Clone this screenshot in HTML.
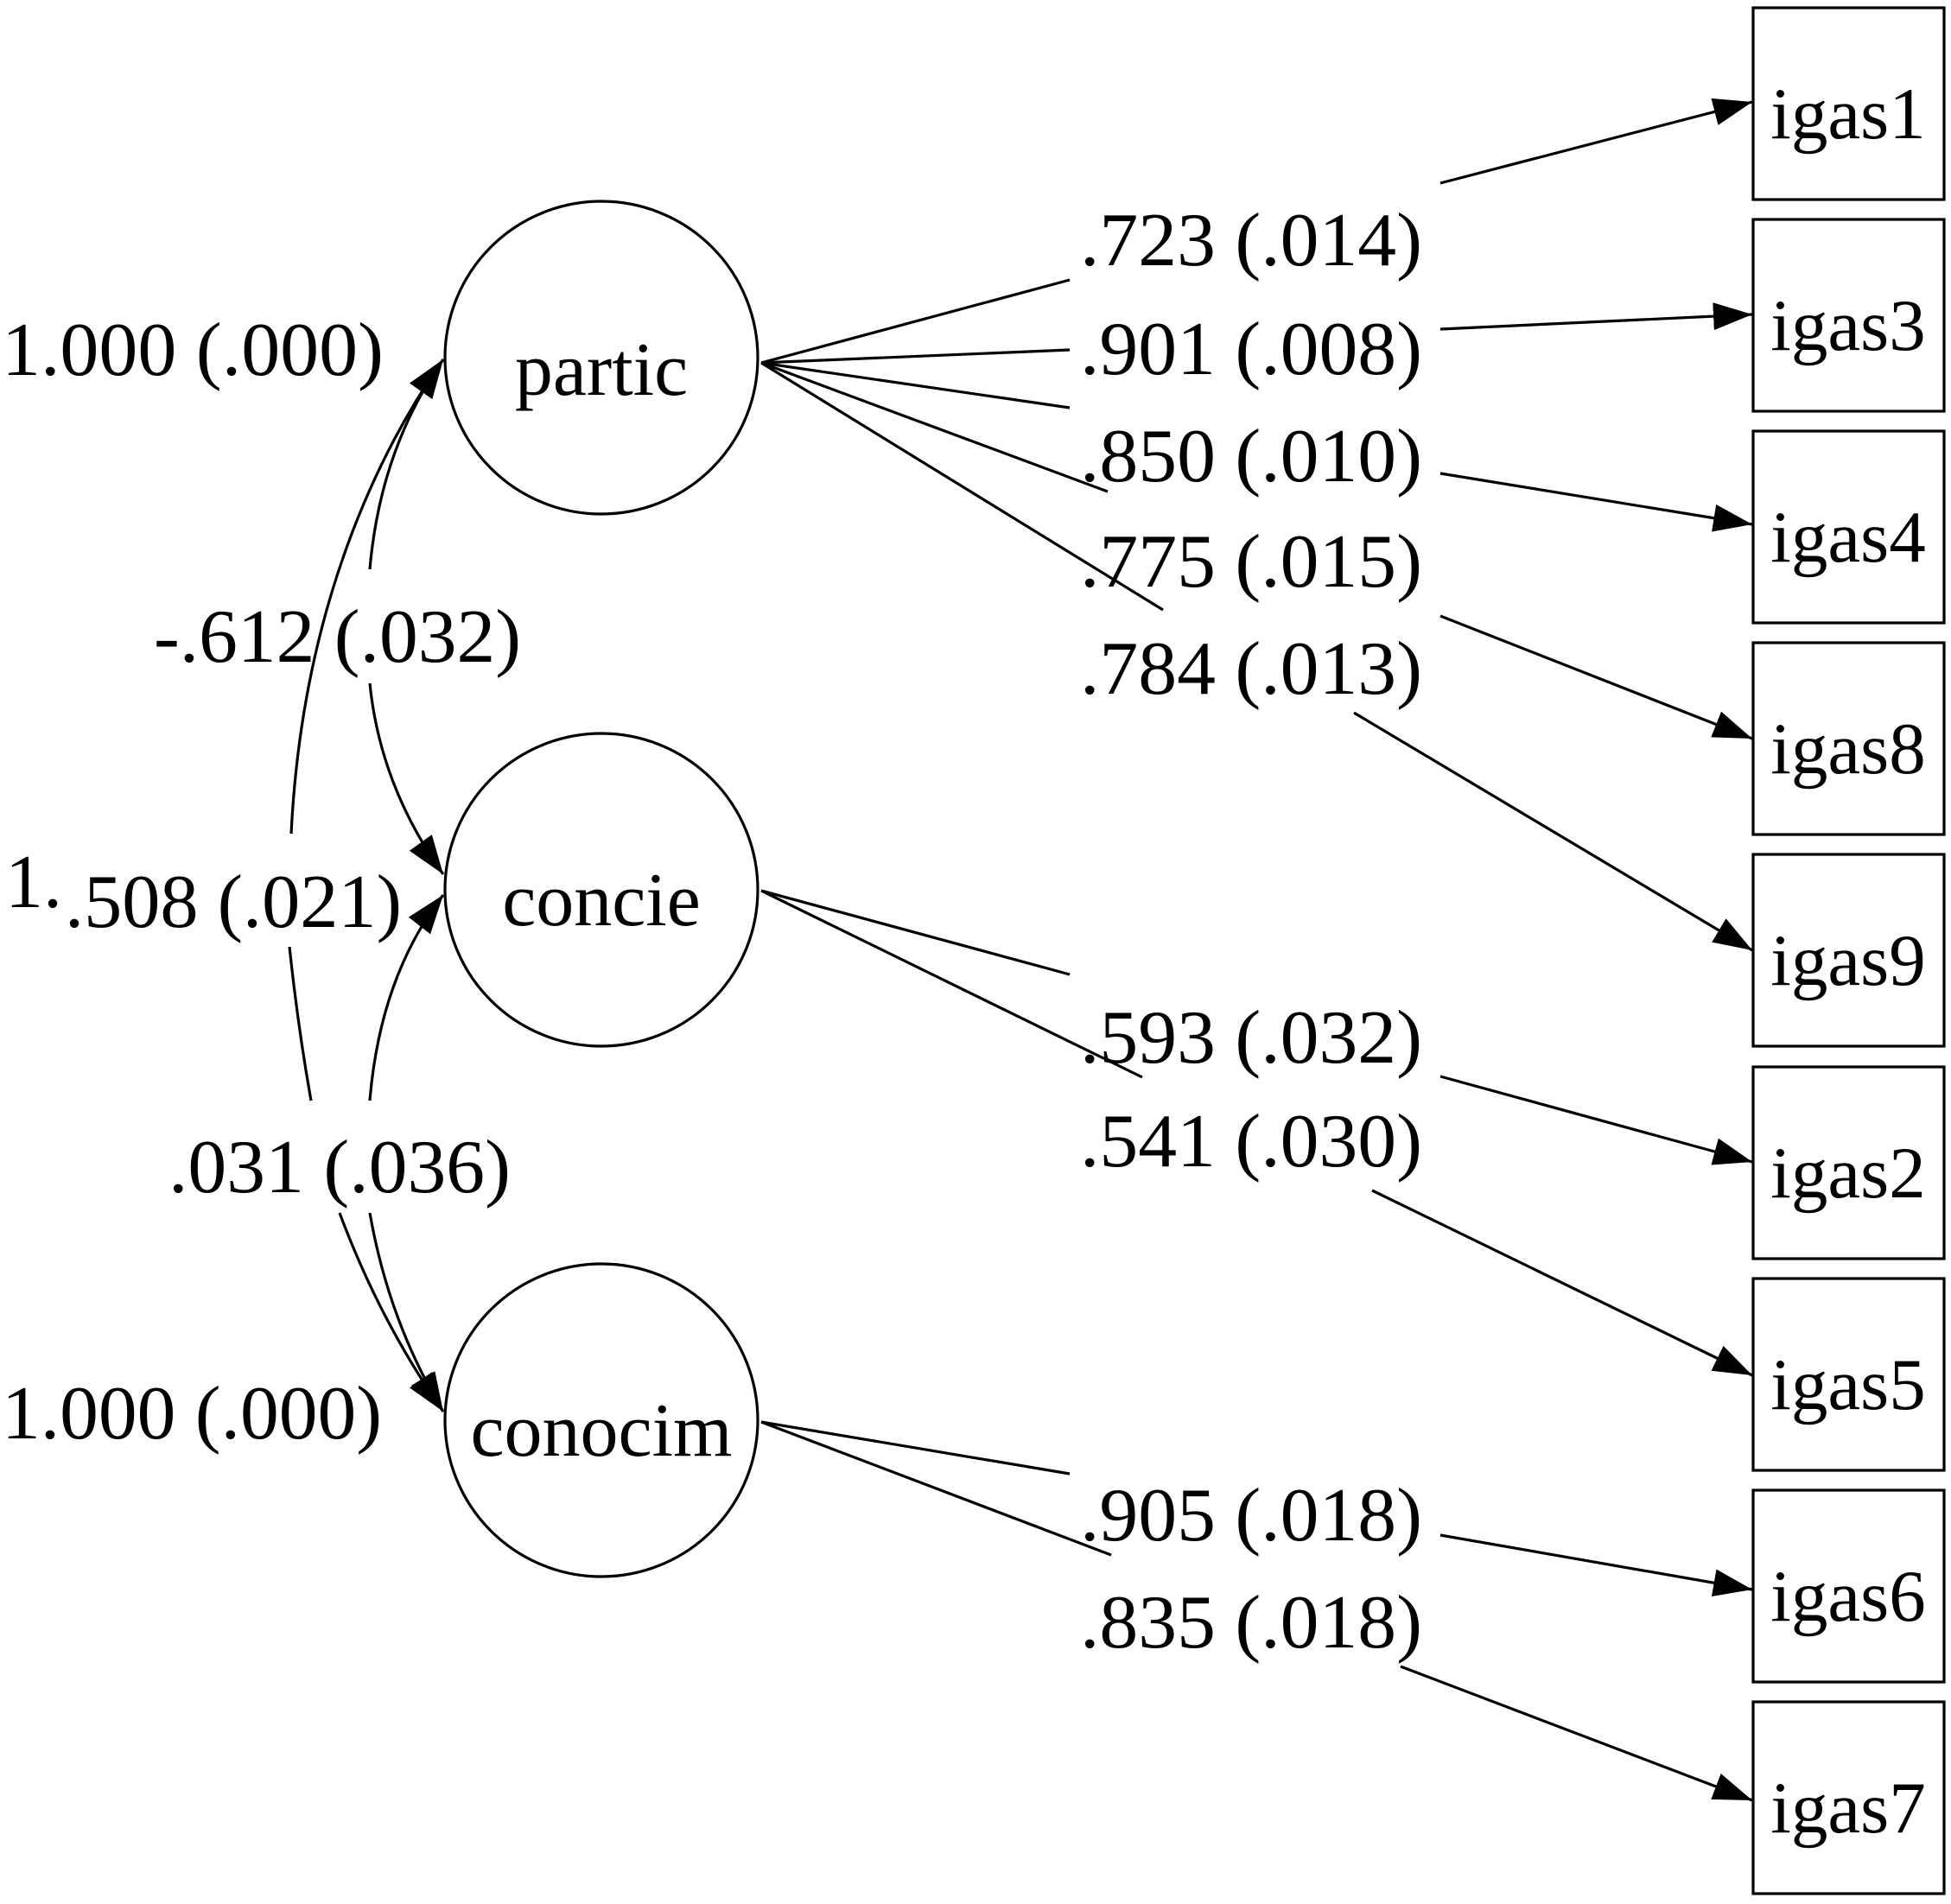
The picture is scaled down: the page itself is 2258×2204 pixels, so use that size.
<!DOCTYPE html>
<html><head><meta charset="utf-8"><style>
html,body{margin:0;padding:0;background:#fff;}
svg{display:block;}
text{font-family:"Liberation Serif",serif;fill:#000;}
</style></head><body>
<svg width="2258" height="2204" viewBox="0 0 2258 2204" xmlns="http://www.w3.org/2000/svg">
<defs>
<marker id="ah" markerUnits="userSpaceOnUse" markerWidth="48" markerHeight="34" refX="45" refY="16" orient="auto-start-reverse">
<path d="M0,0 L45,16 L0,32 z" fill="#000"/>
</marker>
</defs>
<g fill="none" stroke="#000" stroke-width="3.2">
<circle cx="696" cy="414" r="181"/>
<circle cx="696" cy="1030" r="181"/>
<circle cx="696" cy="1644" r="181"/>
<rect x="2029" y="9" width="221" height="222"/>
<rect x="2029" y="254" width="221" height="222"/>
<rect x="2029" y="499" width="221" height="222"/>
<rect x="2029" y="744" width="221" height="222"/>
<rect x="2029" y="989" width="221" height="222"/>
<rect x="2029" y="1235" width="221" height="222"/>
<rect x="2029" y="1480" width="221" height="222"/>
<rect x="2029" y="1725" width="221" height="222"/>
<rect x="2029" y="1970" width="221" height="222"/>

<!-- loadings first segments -->
<path d="M881,420 L1238,324"/>
<path d="M881,420 L1238,405"/>
<path d="M881,420 L1238,472"/>
<path d="M881,420 L1282,569"/>
<path d="M881,420 L1346,706"/>
<path d="M881,1031 L1238,1128"/>
<path d="M881,1031 L1322,1247"/>
<path d="M881,1646 L1238,1706"/>
<path d="M881,1646 L1286,1800"/>
<!-- second segments with arrows -->
<path d="M1667,212 L2028,118" marker-end="url(#ah)"/>
<path d="M1667,381 L2028,364" marker-end="url(#ah)"/>
<path d="M1667,548 L2028,607" marker-end="url(#ah)"/>
<path d="M1667,713 L2028,855" marker-end="url(#ah)"/>
<path d="M1567,825 L2028,1100" marker-end="url(#ah)"/>
<path d="M1667,1246 L2028,1345" marker-end="url(#ah)"/>
<path d="M1588,1378 L2028,1592" marker-end="url(#ah)"/>
<path d="M1667,1777 L2028,1840" marker-end="url(#ah)"/>
<path d="M1621,1929 L2028,2084" marker-end="url(#ah)"/>

<!-- covariance curves -->
<path d="M513,416 C440,520 350,700 337,965" marker-start="url(#ah)"/>
<path d="M335,1096 Q345,1190 360,1274"/>
<path d="M393,1404 Q440,1530 513,1634" marker-end="url(#ah)"/>
<path d="M513,416 Q440,520 428,659" marker-start="url(#ah)"/>
<path d="M428,791 Q440,910 513,1012" marker-end="url(#ah)"/>
<path d="M513,1036 Q440,1130 428,1274" marker-start="url(#ah)"/>
<path d="M428,1404 Q450,1530 513,1634" marker-end="url(#ah)"/>
</g>

<g font-size="88">
<text x="696" y="457" text-anchor="middle">partic</text>
<text x="696" y="1071" text-anchor="middle">concie</text>
<text x="696" y="1685" text-anchor="middle">conocim</text>

<text x="1250" y="307" textLength="396" lengthAdjust="spacingAndGlyphs">.723 (.014)</text>
<text x="1250" y="433" textLength="396" lengthAdjust="spacingAndGlyphs">.901 (.008)</text>
<text x="1250" y="557" textLength="396" lengthAdjust="spacingAndGlyphs">.850 (.010)</text>
<text x="1250" y="679" textLength="396" lengthAdjust="spacingAndGlyphs">.775 (.015)</text>
<text x="1250" y="803" textLength="396" lengthAdjust="spacingAndGlyphs">.784 (.013)</text>
<text x="1250" y="1230" textLength="396" lengthAdjust="spacingAndGlyphs">.593 (.032)</text>
<text x="1250" y="1350" textLength="396" lengthAdjust="spacingAndGlyphs">.541 (.030)</text>
<text x="1250" y="1783" textLength="396" lengthAdjust="spacingAndGlyphs">.905 (.018)</text>
<text x="1250" y="1907" textLength="396" lengthAdjust="spacingAndGlyphs">.835 (.018)</text>

<text x="2" y="434" textLength="442" lengthAdjust="spacingAndGlyphs">1.000 (.000)</text>
<text x="178" y="766" textLength="425" lengthAdjust="spacingAndGlyphs">-.612 (.032)</text>
<text x="6" y="1050">1.</text>
<text x="75" y="1073" textLength="390" lengthAdjust="spacingAndGlyphs">.508 (.021)</text>
<text x="195" y="1380" textLength="396" lengthAdjust="spacingAndGlyphs">.031 (.036)</text>
<text x="2" y="1665" textLength="440" lengthAdjust="spacingAndGlyphs">1.000 (.000)</text>
</g>
<g font-size="85" text-anchor="middle">
<text x="2139" y="160">igas1</text>
<text x="2139" y="405">igas3</text>
<text x="2139" y="650">igas4</text>
<text x="2139" y="895">igas8</text>
<text x="2139" y="1140">igas9</text>
<text x="2139" y="1386">igas2</text>
<text x="2139" y="1631">igas5</text>
<text x="2139" y="1876">igas6</text>
<text x="2139" y="2121">igas7</text>
</g>
</svg>
</body></html>
